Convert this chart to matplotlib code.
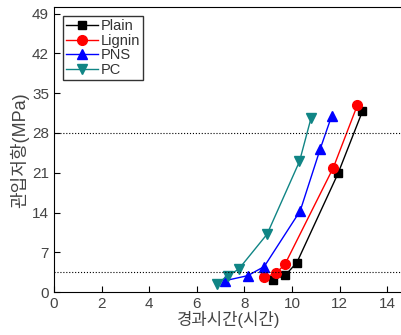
import matplotlib.pyplot as plt

plt.rcParams['font.family'] = ['Liberation Sans', 'Noto Sans CJK KR', 'DejaVu Sans']

plain_x = [9.21, 9.72, 10.2, 11.93, 12.95]
plain_y = [2.2, 3.0, 5.2, 20.9, 31.8]
lignin_x = [8.82, 9.32, 9.70, 11.73, 12.74]
lignin_y = [2.6, 3.3, 4.9, 21.9, 32.9]
pns_x = [7.17, 8.14, 8.83, 10.34, 11.18, 11.66]
pns_y = [2.0, 2.9, 4.5, 14.3, 25.2, 31.0]
pc_x = [6.84, 7.29, 7.75, 8.95, 10.31, 10.8]
pc_y = [1.4, 2.9, 4.0, 10.2, 23.0, 30.7]
ref_levels = [3.5, 28]

fig = plt.figure(figsize=(4.02, 3.35), dpi=100)
ax = fig.add_axes([0.134, 0.128, 0.87, 0.85])

ax.plot(plain_x, plain_y, color='black', marker='s', ms=6, lw=1, label='Plain')
ax.plot(lignin_x, lignin_y, color='red', marker='o', ms=7, lw=1, label='Lignin')
ax.plot(pns_x, pns_y, color='blue', marker='^', ms=7, lw=1, label='PNS')
ax.plot(pc_x, pc_y, color='#108585', marker='v', ms=7, lw=1, label='PC')
for lv in ref_levels:
    ax.axhline(lv, color='black', ls=':', lw=0.8)

ax.set_xlim(0, 14.68)
ax.set_ylim(0, 50.1)
ax.set_xticks(range(0, 15, 2))
ax.set_yticks(range(0, 50, 7))
ax.tick_params(direction='in', labelsize=11, labelcolor='#444444', length=4)
ax.set_xlabel('경과시간(시간)', fontsize=12, color='#444444', labelpad=0)
ax.set_ylabel('관입저항(MPa)', fontsize=13, color='#444444', labelpad=2)

leg = ax.legend(loc='upper left', fontsize=10.5, frameon=True, fancybox=False,
                borderpad=0.2, handlelength=2.2, handletextpad=0.2,
                labelspacing=0.05, borderaxespad=0.6)
leg.get_frame().set_edgecolor('black')
leg.get_frame().set_linewidth(1)
for t in leg.get_texts():
    t.set_color('#333333')

fig.savefig('out.png', dpi=100)
